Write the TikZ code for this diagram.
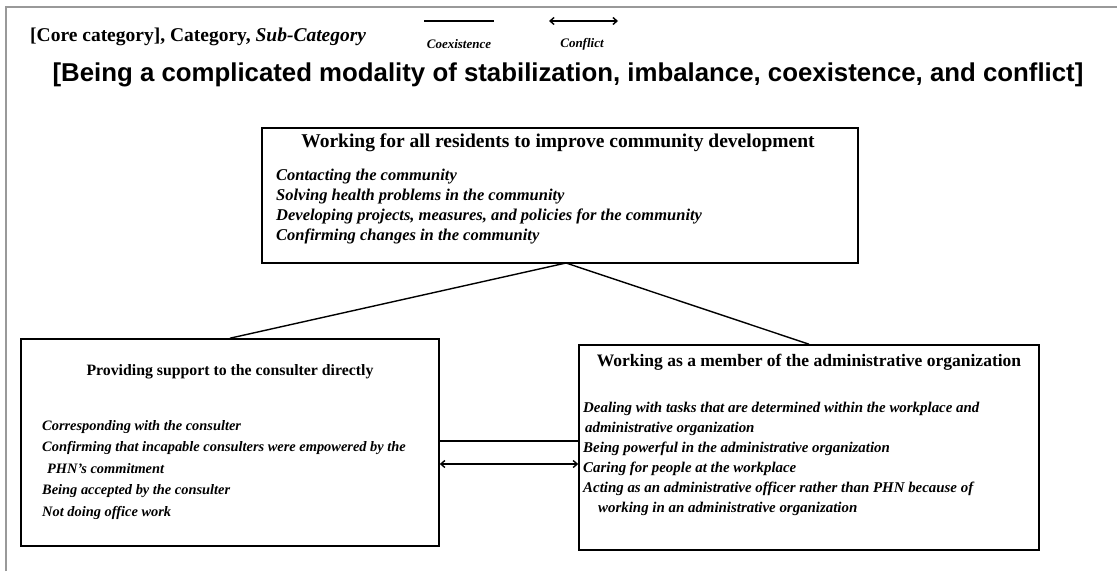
\documentclass[tikz,border=0pt]{standalone}
\usepackage{fontspec}
\setmainfont{Liberation Serif}
\newfontfamily\titlesans{Liberation Sans}
\usetikzlibrary{arrows.meta}
\begin{document}
\begin{tikzpicture}[x=1pt,y=-1pt,
  catbox/.style={draw=black,line width=1.6pt,rectangle,inner sep=0pt},
  cattitle/.style={inner sep=0pt,font=\bfseries},
  subtext/.style={align=left,inner sep=0pt,anchor=north west},
  conn/.style={line width=1.4pt,black},
  conflictarrow/.style={line width=1.4pt,black,{Straight Barb[length=4pt,width=7pt]}-{Straight Barb[length=4pt,width=7pt]}}
]
\useasboundingbox (0,0) rectangle (1117,571);
\fill[white] (0,0) rectangle (1117,571);
% outer frame (cropped)
\draw[gray!80,line width=1.6pt] (6,571) -- (6,7) -- (1117,7);

% legend
\node[anchor=west,inner sep=0pt,font=\fontsize{19.5}{22}\selectfont\bfseries] (legend) at (30,37) {[Core category], Category, \textit{Sub-Category}};
\coordinate (coA) at (424,21);
\coordinate (coB) at (494,21);
\draw[conn] (coA) -- (coB);
\node[inner sep=0pt,font=\fontsize{13}{15}\selectfont\bfseries\itshape] (coexlbl) at (459,44) {Coexistence};
\coordinate (cfA) at (549,21);
\coordinate (cfB) at (618,21);
\draw[conflictarrow] (cfA) -- (cfB);
\node[inner sep=0pt,font=\fontsize{13}{15}\selectfont\bfseries\itshape] (conflbl) at (582,44) {Conflict};

% main title
\node[inner sep=0pt,font=\titlesans\fontsize{25.8}{30}\selectfont\bfseries] (core) at (568,75) {[Being a complicated modality of stabilization, imbalance, coexistence, and conflict]};

% boxes
\node[catbox,minimum width=596pt,minimum height=135pt] (top) at (560,195.5) {};
\node[catbox,minimum width=418pt,minimum height=207pt] (left) at (230,442.5) {};
\node[catbox,minimum width=460pt,minimum height=205pt] (right) at (809,447.5) {};

% titles
\node[cattitle,font=\fontsize{19.5}{22}\selectfont\bfseries] (toptitle) at (558,143) {Working for all residents to improve community development};
\node[cattitle,font=\fontsize{15.8}{20}\selectfont\bfseries] (lefttitle) at (230,372) {Providing support to the consulter directly};
\node[cattitle,font=\fontsize{17.5}{20}\selectfont\bfseries] (righttitle) at (809,362) {Working as a member of the administrative organization};

% sub-categories
\node[subtext,font=\fontsize{16.5}{20}\selectfont\bfseries\itshape] (topsub) at (276,169) {Contacting the community\\
Solving health problems in the community\\
Developing projects, measures, and policies for the community\\
Confirming changes in the community};

\node[subtext,font=\fontsize{14.4}{21.5}\selectfont\bfseries\itshape] (leftsub) at (42,420) {Corresponding with the consulter\\
Confirming that incapable consulters were empowered by the\\
\hspace*{5pt}PHN's commitment\\
Being accepted by the consulter\\
Not doing office work};

\node[subtext,font=\fontsize{14.9}{20}\selectfont\bfseries\itshape] (rightsub) at (583,402) {Dealing with tasks that are determined within the workplace and\\
\hspace*{2pt}administrative organization\\
Being powerful in the administrative organization\\
Caring for people at the workplace\\
Acting as an administrative officer rather than PHN because of\\
\hspace*{15pt}working in an administrative organization};

% connectors
\coordinate (apex) at (566,263);
\draw[conn] (apex) -- (left.north);
\draw[conn] (apex) -- (right.north);
\draw[conn] (left.east |- 0,441) -- (right.west |- 0,441);
\draw[conflictarrow] (left.east |- 0,464) -- (right.west |- 0,464);
\end{tikzpicture}
\end{document}
